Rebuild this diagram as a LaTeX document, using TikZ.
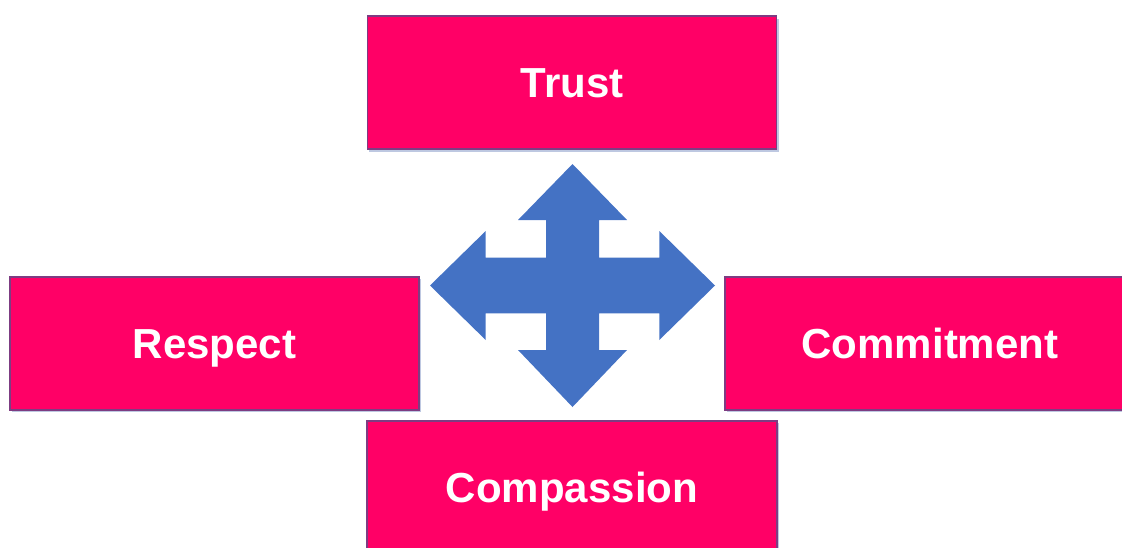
\documentclass[tikz,border=0pt]{standalone}
\usepackage{fontspec}
\setmainfont{Liberation Sans}
\definecolor{boxpink}{RGB}{255,0,102}
\definecolor{boxedge}{RGB}{125,60,130}
\definecolor{shade}{RGB}{190,200,225}
\definecolor{crossblue}{RGB}{68,114,196}
\tikzset{
  valuebox/.style={rectangle, fill=boxpink, draw=boxedge, line width=1.2pt,
    minimum width=409pt, minimum height=133pt, inner sep=0pt,
    text height=30pt, text depth=0pt,
    text=white, font=\fontsize{42}{50}\selectfont\bfseries},
  boxshadow/.style={fill=shade},
  crossshape/.style={fill=crossblue, draw=none}
}
\begin{document}
\begin{tikzpicture}[x=1pt,y=-1pt]
\useasboundingbox (0,0) rectangle (1122,547);
\begin{scope}
\clip (0,0) rectangle (1122,547);
% shadows
\fill[boxshadow] (369,19) rectangle (779,152);
\fill[boxshadow] (12,279) rectangle (421,412);
\fill[boxshadow] (727,279) rectangle (1140,412);
\fill[boxshadow] (369,423) rectangle (779,560);
% boxes
\node[valuebox] (trust) at (572,82.5) {Trust};
\node[valuebox] (respect) at (214.5,343.5) {Respect};
\node[valuebox, minimum width=410pt] (commit) at (930,343.5) {Commitment};
\node[valuebox, minimum width=410pt] (compass) at (572,487.5) {Compassion};
% cross arrow
\fill[crossshape] (572.5,164) -- (627,220) -- (599,220) -- (599,257.7)
  -- (659.3,257.7) -- (659.3,231) -- (715,285.5) -- (659.3,340) -- (659.3,313.3)
  -- (599,313.3) -- (599,350) -- (627,350) -- (572.5,407) -- (518,350)
  -- (546,350) -- (546,313.3) -- (485.7,313.3) -- (485.7,340) -- (430,285.5)
  -- (485.7,231) -- (485.7,257.7) -- (546,257.7) -- (546,220) -- (518,220) -- cycle;
\end{scope}
\end{tikzpicture}
\end{document}
